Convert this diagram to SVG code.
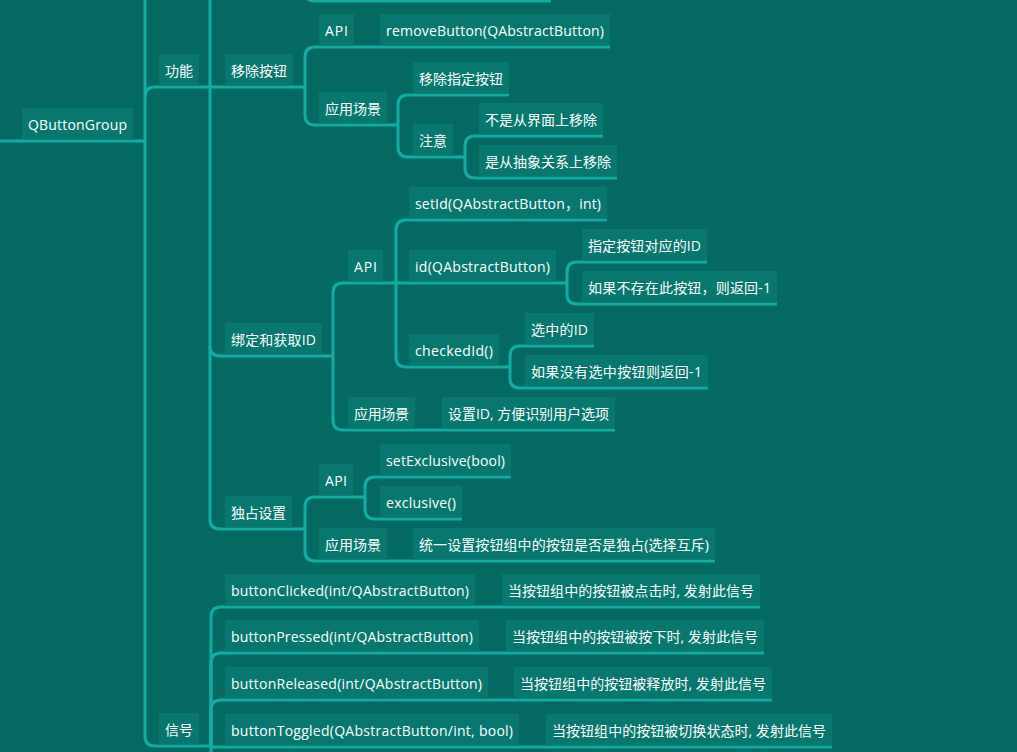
<svg xmlns="http://www.w3.org/2000/svg" width="1017" height="752" viewBox="0 0 1017 752">
<style>
.bg{fill:#046963}
.n rect{fill:#087770}
.n text{fill:#ffffff;font-family:"Open Sans","Noto Sans CJK SC",sans-serif;font-size:14px}
#connectors path{fill:none;stroke:#12aca5;stroke-width:3}
</style>
<rect class="bg" x="0" y="0" width="1017" height="752"/>
<g id="connectors">
<path d="M0,141 H145"/>
<path d="M145,-20 V736 Q145,746 155,746 H211"/>
<path d="M145,97 Q145,87 155,87 H210"/>
<path d="M210,-20 V519 Q210,529 220,529 H305"/>
<path d="M210,87 H305"/>
<path d="M210,346 Q210,356 220,356 H333"/>
<path d="M305,-30 V-9 Q305,1 315,1 H551"/>
<path d="M305,87 V57 Q305,47 315,47 H610"/>
<path d="M305,87 V115 Q305,125 315,125 H398"/>
<path d="M398,125 V105 Q398,95 408,95 H509"/>
<path d="M398,125 V147 Q398,157 408,157 H465"/>
<path d="M465,157 V146 Q465,136 475,136 H603"/>
<path d="M465,157 V168 Q465,178 475,178 H617"/>
<path d="M333,356 V293 Q333,283 343,283 H396"/>
<path d="M333,356 V420 Q333,430 343,430 H615"/>
<path d="M396,283 V230 Q396,220 406,220 H607"/>
<path d="M396,283 H567"/>
<path d="M396,283 V357 Q396,367 406,367 H510"/>
<path d="M567,283 V272 Q567,262 577,262 H707"/>
<path d="M567,283 V294 Q567,304 577,304 H777"/>
<path d="M510,367 V356 Q510,346 520,346 H594"/>
<path d="M510,367 V378 Q510,388 520,388 H708"/>
<path d="M305,529 V507 Q305,497 315,497 H365"/>
<path d="M305,529 V551 Q305,561 315,561 H715"/>
<path d="M365,497 V487 Q365,477 375,477 H511"/>
<path d="M365,497 V509 Q365,519 375,519 H462"/>
<path d="M211,760 V617 Q211,607 221,607 H760"/>
<path d="M211,746 V663 Q211,653 221,653 H764"/>
<path d="M211,746 V710 Q211,700 221,700 H772"/>
<path d="M211,747 H832"/>
</g>
<g id="n-root" class="n"><rect x="22" y="108" width="111" height="31.5"/><text x="28" y="130" textLength="99">QButtonGroup</text></g>
<g id="n-gongneng" class="n"><rect x="159" y="54" width="40" height="31.5"/><text x="165" y="76" textLength="28">功能</text></g>
<g id="n-remove" class="n"><rect x="225" y="54" width="68" height="31.5"/><text x="231" y="76" textLength="56">移除按钮</text></g>
<g id="n-remove-api" class="n"><rect x="319" y="14" width="35" height="31.5"/><text x="325" y="36" textLength="23">API</text></g>
<g id="n-removeButton" class="n"><rect x="380" y="14" width="230" height="31.5"/><text x="386" y="36" textLength="218">removeButton(QAbstractButton)</text></g>
<g id="n-remove-scene" class="n"><rect x="319" y="92" width="68" height="31.5"/><text x="325" y="114" textLength="56">应用场景</text></g>
<g id="n-remove-spec" class="n"><rect x="413" y="62" width="96" height="31.5"/><text x="419" y="84" textLength="84">移除指定按钮</text></g>
<g id="n-note" class="n"><rect x="413" y="124" width="40" height="31.5"/><text x="419" y="146" textLength="28">注意</text></g>
<g id="n-note1" class="n"><rect x="479" y="103" width="124" height="31.5"/><text x="485" y="125" textLength="112">不是从界面上移除</text></g>
<g id="n-note2" class="n"><rect x="479" y="145" width="138" height="31.5"/><text x="485" y="167" textLength="126">是从抽象关系上移除</text></g>
<g id="n-bind" class="n"><rect x="225" y="323" width="97" height="31.5"/><text x="231" y="345" textLength="85">绑定和获取ID</text></g>
<g id="n-bind-api" class="n"><rect x="348" y="250" width="35" height="31.5"/><text x="354" y="272" textLength="23">API</text></g>
<g id="n-setId" class="n"><rect x="409" y="187" width="198" height="31.5"/><text x="415" y="209" textLength="186">setId(QAbstractButton，int)</text></g>
<g id="n-id" class="n"><rect x="409" y="250" width="147" height="31.5"/><text x="415" y="272" textLength="135">id(QAbstractButton)</text></g>
<g id="n-id1" class="n"><rect x="582" y="229" width="125" height="31.5"/><text x="588" y="251" textLength="113">指定按钮对应的ID</text></g>
<g id="n-id2" class="n"><rect x="582" y="271" width="195" height="31.5"/><text x="588" y="293" textLength="183">如果不存在此按钮，则返回-1</text></g>
<g id="n-checkedId" class="n"><rect x="409" y="334" width="90" height="31.5"/><text x="415" y="356" textLength="78">checkedId()</text></g>
<g id="n-cid1" class="n"><rect x="525" y="313" width="69" height="31.5"/><text x="531" y="335" textLength="57">选中的ID</text></g>
<g id="n-cid2" class="n"><rect x="525" y="355" width="183" height="31.5"/><text x="531" y="377" textLength="171">如果没有选中按钮则返回-1</text></g>
<g id="n-bind-scene" class="n"><rect x="348" y="397" width="67" height="31.5"/><text x="354" y="419" textLength="55">应用场景</text></g>
<g id="n-bind-scene1" class="n"><rect x="442" y="397" width="173" height="31.5"/><text x="448" y="419" textLength="161">设置ID, 方便识别用户选项</text></g>
<g id="n-excl" class="n"><rect x="225" y="496" width="67" height="31.5"/><text x="231" y="518" textLength="55">独占设置</text></g>
<g id="n-excl-api" class="n"><rect x="319" y="464" width="34" height="31.5"/><text x="325" y="486" textLength="22">API</text></g>
<g id="n-setExclusive" class="n"><rect x="380" y="444" width="131" height="31.5"/><text x="386" y="466" textLength="119">setExclusive(bool)</text></g>
<g id="n-exclusive" class="n"><rect x="380" y="486" width="82" height="31.5"/><text x="386" y="508" textLength="70">exclusive()</text></g>
<g id="n-excl-scene" class="n"><rect x="319" y="528" width="68" height="31.5"/><text x="325" y="550" textLength="56">应用场景</text></g>
<g id="n-excl-scene1" class="n"><rect x="413" y="528" width="302" height="31.5"/><text x="419" y="550" textLength="290">统一设置按钮组中的按钮是否是独占(选择互斥)</text></g>
<g id="n-signal" class="n"><rect x="159" y="713" width="40" height="31.5"/><text x="165" y="735" textLength="28">信号</text></g>
<g id="n-clicked" class="n"><rect x="225" y="574" width="250" height="31.5"/><text x="231" y="596" textLength="238">buttonClicked(int/QAbstractButton)</text></g>
<g id="n-clicked-d" class="n"><rect x="502" y="574" width="258" height="31.5"/><text x="508" y="596" textLength="246">当按钮组中的按钮被点击时, 发射此信号</text></g>
<g id="n-pressed" class="n"><rect x="225" y="620" width="254" height="31.5"/><text x="231" y="642" textLength="242">buttonPressed(int/QAbstractButton)</text></g>
<g id="n-pressed-d" class="n"><rect x="506" y="620" width="258" height="31.5"/><text x="512" y="642" textLength="246">当按钮组中的按钮被按下时, 发射此信号</text></g>
<g id="n-released" class="n"><rect x="225" y="667" width="263" height="31.5"/><text x="231" y="689" textLength="251">buttonReleased(int/QAbstractButton)</text></g>
<g id="n-released-d" class="n"><rect x="514" y="667" width="258" height="31.5"/><text x="520" y="689" textLength="246">当按钮组中的按钮被释放时, 发射此信号</text></g>
<g id="n-toggled" class="n"><rect x="225" y="714" width="294" height="31.5"/><text x="231" y="736" textLength="282">buttonToggled(QAbstractButton/int, bool)</text></g>
<g id="n-toggled-d" class="n"><rect x="546" y="714" width="286" height="31.5"/><text x="552" y="736" textLength="274">当按钮组中的按钮被切换状态时, 发射此信号</text></g>
</svg>
